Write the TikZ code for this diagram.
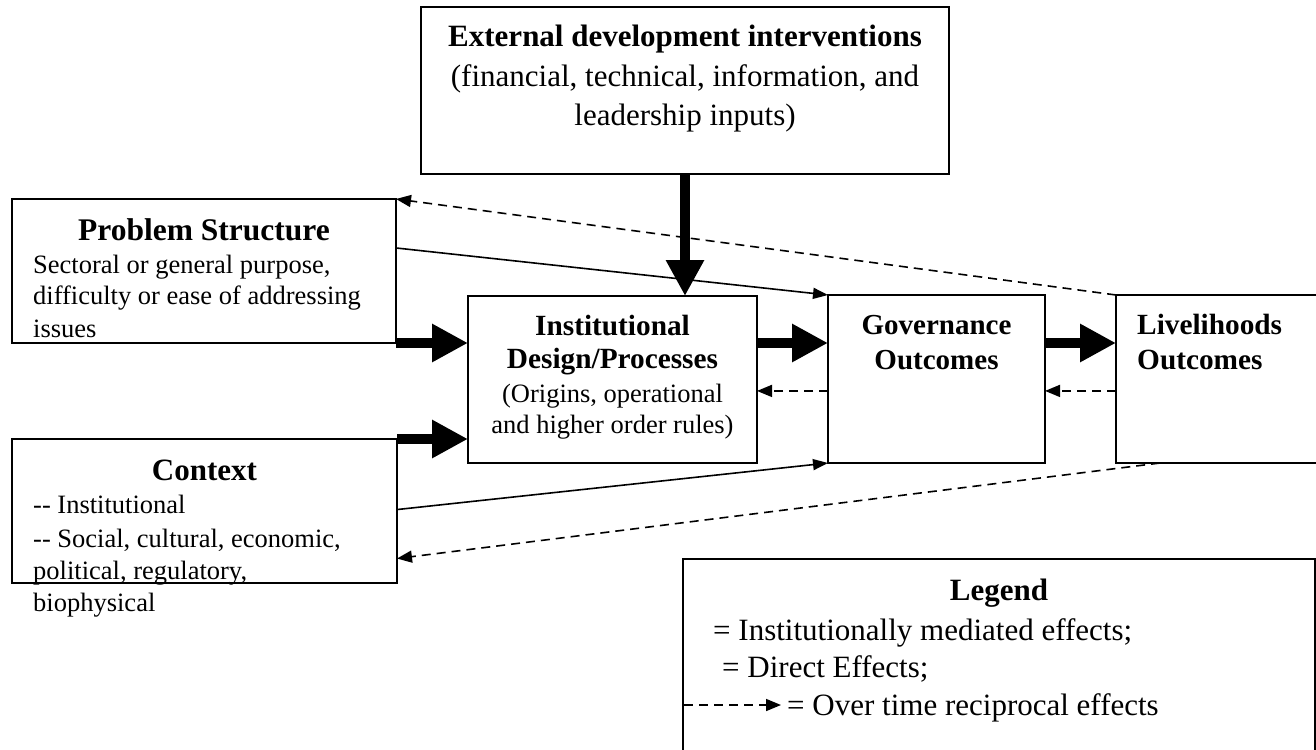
\documentclass[tikz,border=0pt]{standalone}
\usepackage{fontspec}
\setmainfont{Liberation Serif}
\usetikzlibrary{arrows.meta,calc}
\tikzset{
  box/.style={draw, line width=1.6pt, inner sep=0pt, outer sep=0pt},
  bigarrow/.style={line width=10pt, -{Triangle[length=36pt,width=36pt]}},
  thinarrow/.style={line width=1.6pt, -{Triangle[length=15pt,width=11pt]}},
  dasharrow/.style={line width=1.6pt, dash pattern=on 9pt off 6pt, -{Triangle[length=15pt,width=12pt]}},
  ttl/.style={font=\bfseries\fontsize{#1}{36}\selectfont, anchor=base, inner sep=0pt},
  ttl/.default=30,
  ttlw/.style={font=\bfseries\fontsize{29.3}{36}\selectfont, anchor=base west, inner sep=0pt},
  bdy/.style={font=\fontsize{26.5}{32}\selectfont, anchor=base west, inner sep=0pt},
  bdyc/.style={font=\fontsize{#1}{32}\selectfont, anchor=base, inner sep=0pt},
  bdyc/.default=26.5,
  leg/.style={font=\fontsize{31}{36}\selectfont, anchor=base west, inner sep=0pt}
}
\begin{document}
\begin{tikzpicture}[x=1pt,y=-1pt]
\useasboundingbox (0,0) rectangle (1316,749);
% boxes
\node[box, minimum width=528pt, minimum height=167pt] (ext) at (685,90.5) {};
\node[box, minimum width=384pt, minimum height=144pt] (prob) at (204,271) {};
\node[box, minimum width=289pt, minimum height=167pt] (inst) at (612.5,379.5) {};
\node[box, minimum width=217pt, minimum height=168pt] (gov) at (936.5,379) {};
\node[box, minimum width=214pt, minimum height=168pt] (liv) at (1223,379) {};
\node[box, minimum width=385pt, minimum height=144pt] (ctx) at (204.5,511) {};
\node[box, minimum width=632pt, minimum height=211pt] (lgd) at (999,664.5) {};
% texts: external
\node[ttl=31] (ext1) at (685,47) {External development interventions};
\node[bdyc=31] (ext2) at (685,87) {(financial, technical, information, and};
\node[bdyc=31] (ext3) at (685,125) {leadership inputs)};
% problem structure
\node[ttl=31.5] (prob1) at (204,240) {Problem Structure};
\node[bdy] (prob2) at (33,273) {Sectoral or general purpose,};
\node[bdy] (prob3) at (33,304) {difficulty or ease of addressing};
\node[bdy] (prob4) at (33,337) {issues};
% institutional
\node[ttl=29.3] (inst1) at (612.5,335) {Institutional};
\node[ttl=29.3] (inst2) at (612.5,368) {Design/Processes};
\node[bdyc] (inst3) at (612.5,402) {(Origins, operational};
\node[bdyc] (inst4) at (612.5,433) {and higher order rules)};
% governance
\node[ttl=29] (gov1) at (936.5,334) {Governance};
\node[ttl=29] (gov2) at (936.5,369) {Outcomes};
% livelihoods
\node[ttlw] (liv1) at (1137,334) {Livelihoods};
\node[ttlw] (liv2) at (1137,369) {Outcomes};
% context
\node[ttl=31] (ctx1) at (204.5,480) {Context};
\node[bdy] (ctx2) at (33,513) {-\kern0pt- Institutional};
\node[bdy] (ctx3) at (33,547) {-\kern0pt- Social, cultural, economic,};
\node[bdy] (ctx4) at (33,579) {political, regulatory,};
\node[bdy] (ctx5) at (33,611) {biophysical};
% legend
\node[ttl=31] (lg0) at (999,600) {Legend};
\node[leg] (lg1) at (713,640) {= Institutionally mediated effects;};
\node[leg] (lg2) at (722,677) {= Direct Effects;};
\node[leg] (lg3) at (787,715) {= Over time reciprocal effects};
\coordinate (la) at (684,705);
\coordinate (lb) at (781,705);
\draw[dasharrow] (la) -- (lb);
% thin direct effects
\coordinate (pa) at ($(prob.north east)!0.34!(prob.south east)$);
\coordinate (ca) at ($(ctx.north east)!0.49!(ctx.south east)$);
\draw[thinarrow] (pa) -- (gov.north west);
\draw[thinarrow] (ca) -- (gov.south west);
% dashed reciprocal
\coordinate (gd) at ($(gov.north west)!0.571!(gov.south west)$);
\coordinate (ld) at ($(liv.north west)!0.571!(liv.south west)$);
\coordinate (lbot) at ($(liv.south west)+(44,0)$);
\coordinate (cd) at ($(ctx.north east)!0.83!(ctx.south east)$);
\draw[dasharrow] (liv.north west) -- (prob.north east);
\draw[dasharrow] (lbot) -- (cd);
\draw[dasharrow] (gd) -- (gd -| inst.east);
\draw[dasharrow] (ld) -- (ld -| gov.east);
% big arrows
\draw[bigarrow] (ext.south) -- (ext.south |- inst.north);
\draw[bigarrow] (prob.south east) -- (prob.south east -| inst.west);
\draw[bigarrow] (ctx.north east) -- (ctx.north east -| inst.west);
\draw[bigarrow] (inst.east |- prob.south) -- (gov.west |- prob.south);
\draw[bigarrow] (gov.east |- prob.south) -- (liv.west |- prob.south);
\end{tikzpicture}
\end{document}
